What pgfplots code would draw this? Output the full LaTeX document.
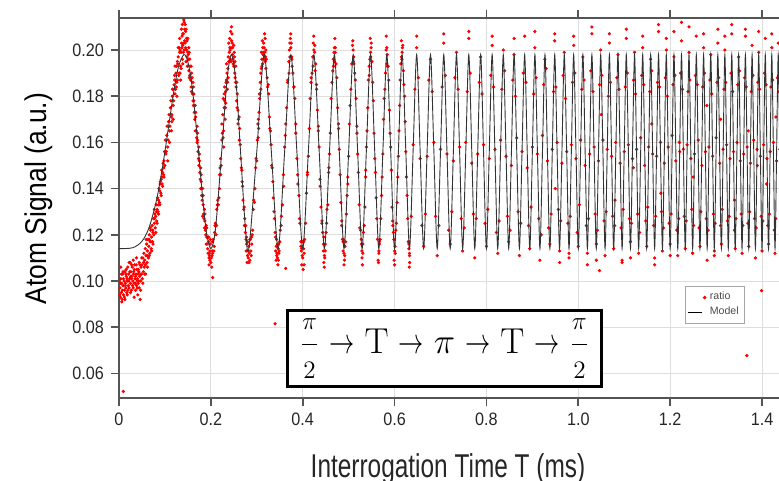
\RequirePackage{fix-cm}
\documentclass[border=0pt]{standalone}
\usepackage[no-math]{fontspec}
\usepackage{graphicx}
\usepackage{pgfplots}
\pgfplotsset{compat=1.18}
\setmainfont{Liberation Sans}
\newfontfamily\tickfont{Liberation Sans}[FakeStretch=0.9]
\newfontfamily\ylabfont{Liberation Sans}[FakeStretch=0.88]
\newfontfamily\xlabfont{Liberation Sans}[FakeStretch=0.74]
\definecolor{framecol}{RGB}{85,85,85}
\definecolor{gridcol}{RGB}{222,222,222}
\newcommand{\sto}{\mathrel{\scalebox{0.7}[1]{$\rightarrow$}}}

\begin{document}
\begin{tikzpicture}
\begin{axis}[
    scale only axis,
    width=333pt,
    height=190pt,
    xmin=0, xmax=1.45,
    ymin=0.04935, ymax=0.21385,
    clip mode=individual,
    xtick={0,0.2,0.4,0.6,0.8,1.0,1.2,1.4},
    xticklabels={0,0.2,0.4,0.6,0.8,1.0,1.2,1.4},
    ytick={0.06,0.08,0.10,0.12,0.14,0.16,0.18,0.20},
    yticklabels={0.06,0.08,0.10,0.12,0.14,0.16,0.18,0.20},
    xticklabel pos=lower,
    xtick pos=both,
    ytick pos=left,
    tick align=outside,
    major tick length=4pt,
    xtick style={draw=framecol, line width=0.8pt},
    ytick style={draw=framecol, line width=0.8pt},
    grid=major,
    major grid style={gridcol, line width=0.5pt},
    axis line style={framecol, line width=1pt},
    tick label style={font=\tickfont\fontsize{9}{10}\selectfont, color=black!85},
    /pgf/number format/assume math mode=true,
    xlabel={\xlabfont\fontsize{16.5}{18}\selectfont Interrogation Time T (ms)},
    xlabel style={at={(axis description cs:0.494,-0.208)}, anchor=base, inner sep=0pt, color=black!85},
    ylabel={\ylabfont\fontsize{15}{17}\selectfont Atom Signal (a.u.)},
    ylabel style={at={(axis description cs:-0.1201,0.525)}, anchor=center, inner sep=0pt},
    legend style={at={(0.850,0.2945)}, anchor=north west, draw=gray!70,
        line width=0.5pt, font=\fontsize{5.3}{6}\selectfont, inner sep=0.8pt,
        row sep=-2pt, text=black!70},
    legend cell align=left,
]
% measured points
\addplot[only marks, mark=*, mark size=0.6pt, color=red] coordinates {
(0.002,0.097)(0.003,0.093)(0.004,0.101)(0.005,0.095)(0.006,0.099)(0.007,0.092)(0.008,0.103)(0.009,0.098)(0.010,0.094)(0.011,0.100)
(0.012,0.096)(0.013,0.104)(0.014,0.099)(0.015,0.097)(0.016,0.102)(0.017,0.095)(0.018,0.100)(0.019,0.106)(0.020,0.098)(0.021,0.103)
(0.022,0.097)(0.023,0.101)(0.024,0.108)(0.025,0.099)(0.026,0.104)(0.027,0.096)(0.028,0.102)(0.029,0.106)(0.030,0.100)(0.031,0.097)
(0.032,0.104)(0.033,0.099)(0.034,0.107)(0.035,0.101)(0.036,0.096)(0.037,0.103)(0.038,0.098)(0.039,0.105)(0.040,0.101)(0.041,0.094)
(0.042,0.099)(0.043,0.104)(0.044,0.097)(0.045,0.102)(0.046,0.092)(0.047,0.100)(0.048,0.106)(0.049,0.103)
(0.004,0.106)(0.009,0.104)(0.013,0.092)(0.018,0.094)(0.022,0.108)(0.027,0.101)(0.031,0.109)(0.036,0.102)(0.040,0.097)(0.044,0.108)
(0.047,0.096)(0.001,0.100)(0.006,0.091)(0.015,0.103)(0.025,0.095)(0.033,0.093)(0.038,0.110)(0.042,0.105)
(0.0015,0.094)(0.0035,0.099)(0.0055,0.103)(0.0075,0.096)(0.0095,0.101)(0.0115,0.093)(0.0135,0.098)(0.0155,0.105)(0.0175,0.101)(0.0195,0.096)
(0.0215,0.100)(0.0235,0.104)(0.0255,0.102)(0.0275,0.107)(0.0295,0.098)(0.0315,0.103)(0.0335,0.105)(0.0355,0.099)(0.0375,0.107)(0.0395,0.100)
(0.0415,0.103)(0.0435,0.100)(0.0455,0.107)(0.0475,0.103)(0.0495,0.110)(0.0535,0.108)(0.0575,0.107)(0.0615,0.111)(0.0655,0.118)(0.0695,0.117)
(0.0735,0.122)(0.0775,0.127)(0.0815,0.130)(0.0855,0.133)(0.0895,0.142)(0.0935,0.145)(0.0975,0.149)
(0.050,0.107)(0.051,0.101)(0.052,0.110)(0.053,0.104)(0.054,0.112)(0.055,0.106)(0.056,0.109)(0.057,0.114)(0.058,0.103)(0.059,0.111)
(0.060,0.116)(0.061,0.108)(0.062,0.113)(0.063,0.118)(0.064,0.110)(0.065,0.115)(0.066,0.120)(0.067,0.112)(0.068,0.117)(0.069,0.122)
(0.070,0.114)(0.071,0.119)(0.072,0.124)(0.073,0.117)(0.074,0.121)(0.075,0.127)(0.076,0.120)(0.077,0.125)(0.078,0.129)(0.079,0.123)
(0.080,0.128)(0.081,0.133)(0.082,0.126)(0.083,0.131)(0.084,0.136)(0.085,0.130)(0.086,0.135)(0.087,0.140)(0.088,0.134)(0.089,0.139)
(0.090,0.143)(0.091,0.138)(0.092,0.144)(0.093,0.148)(0.094,0.142)(0.095,0.147)(0.096,0.151)(0.097,0.146)(0.098,0.152)(0.099,0.156)
(0.052,0.099)(0.056,0.103)(0.059,0.118)(0.062,0.106)(0.066,0.111)(0.068,0.123)(0.071,0.113)(0.074,0.116)(0.077,0.131)(0.080,0.121)
(0.083,0.125)(0.086,0.129)(0.089,0.133)(0.092,0.137)(0.095,0.141)(0.098,0.145)
(0.100,0.150)(0.102,0.155)(0.104,0.163)(0.106,0.158)(0.108,0.169)(0.110,0.165)(0.112,0.175)(0.114,0.171)(0.116,0.180)(0.118,0.176)
(0.120,0.185)(0.122,0.181)(0.124,0.190)(0.126,0.186)(0.128,0.194)(0.130,0.189)(0.132,0.199)(0.134,0.193)(0.136,0.203)(0.138,0.196)
(0.140,0.207)(0.142,0.200)(0.144,0.211)(0.146,0.195)(0.148,0.204)(0.150,0.199)(0.152,0.191)(0.154,0.196)(0.156,0.187)(0.158,0.190)
(0.160,0.181)(0.162,0.184)(0.164,0.173)(0.166,0.176)(0.168,0.165)(0.170,0.167)(0.172,0.156)(0.174,0.158)(0.176,0.147)(0.178,0.149)
(0.180,0.137)(0.182,0.140)(0.184,0.129)(0.186,0.131)(0.188,0.122)(0.190,0.124)(0.192,0.116)(0.194,0.119)(0.196,0.110)(0.198,0.113)
(0.200,0.108)
(0.101,0.161)(0.103,0.156)(0.105,0.167)(0.107,0.161)(0.109,0.172)(0.111,0.167)(0.113,0.178)(0.115,0.172)(0.117,0.183)(0.119,0.178)
(0.121,0.187)(0.123,0.183)(0.125,0.193)(0.127,0.187)(0.129,0.197)(0.131,0.190)(0.133,0.200)(0.135,0.199)(0.137,0.201)(0.139,0.207)
(0.141,0.203)(0.143,0.209)(0.145,0.201)(0.147,0.205)(0.149,0.193)(0.151,0.198)(0.153,0.188)(0.155,0.193)(0.157,0.184)(0.159,0.188)
(0.161,0.178)(0.163,0.181)(0.165,0.170)(0.167,0.173)(0.169,0.162)(0.171,0.164)(0.173,0.153)(0.175,0.155)(0.177,0.144)(0.179,0.146)
(0.181,0.135)(0.183,0.137)(0.185,0.127)(0.187,0.129)(0.189,0.120)(0.191,0.123)(0.193,0.114)(0.195,0.119)(0.197,0.111)(0.199,0.118)
(0.131,0.201)(0.135,0.192)(0.137,0.206)(0.139,0.202)(0.141,0.213)(0.143,0.204)(0.145,0.208)(0.147,0.200)(0.149,0.205)(0.139,0.194)
(0.133,0.190)(0.127,0.195)(0.125,0.184)(0.121,0.189)(0.117,0.183)(0.115,0.169)(0.151,0.196)(0.153,0.199)(0.157,0.193)(0.161,0.186)
(0.163,0.178)(0.167,0.171)(0.171,0.161)(0.175,0.152)(0.179,0.143)(0.183,0.133)(0.187,0.126)(0.191,0.119)(0.195,0.117)(0.197,0.112)
(0.199,0.116)(0.201,0.110)(0.203,0.113)(0.196,0.107)
(0.118,0.170)(0.122,0.193)(0.126,0.180)(0.129,0.201)(0.132,0.205)(0.134,0.187)(0.136,0.209)(0.138,0.211)(0.140,0.199)(0.142,0.212)
(0.144,0.203)(0.146,0.209)(0.148,0.197)(0.150,0.205)(0.152,0.201)(0.154,0.189)(0.158,0.182)(0.162,0.176)(0.166,0.165)(0.170,0.160)
(0.174,0.150)(0.178,0.140)(0.182,0.128)(0.186,0.123)(0.190,0.116)(0.194,0.112)(0.198,0.109)(0.202,0.106)(0.106,0.152)(0.110,0.160)
(0.114,0.165)
(0.2025,0.111)(0.205,0.118)(0.2075,0.115)(0.210,0.125)(0.2125,0.124)(0.215,0.135)(0.2175,0.136)(0.220,0.149)(0.2225,0.150)(0.225,0.164)
(0.2275,0.165)(0.230,0.178)(0.2325,0.177)(0.235,0.190)(0.2375,0.188)(0.240,0.199)(0.2425,0.196)(0.245,0.204)(0.2475,0.201)(0.250,0.193)
(0.2525,0.195)(0.255,0.184)(0.2575,0.181)(0.260,0.170)(0.2625,0.166)(0.265,0.153)(0.2675,0.148)(0.270,0.135)(0.2725,0.132)(0.275,0.121)
(0.2775,0.119)(0.280,0.111)(0.2825,0.115)(0.285,0.109)
(0.2035,0.117)(0.2065,0.113)(0.209,0.124)(0.2115,0.120)(0.214,0.133)(0.2165,0.133)(0.219,0.146)(0.2215,0.146)(0.224,0.161)(0.2265,0.162)
(0.229,0.175)(0.2315,0.175)(0.234,0.187)(0.2365,0.186)(0.239,0.195)(0.2415,0.201)(0.244,0.195)(0.2465,0.203)(0.249,0.194)(0.2515,0.197)
(0.254,0.186)(0.2565,0.186)(0.259,0.174)(0.2615,0.171)(0.264,0.159)(0.2665,0.149)(0.269,0.141)(0.2715,0.131)(0.274,0.127)(0.2765,0.118)
(0.279,0.117)(0.2815,0.110)
(0.224,0.168)(0.227,0.179)(0.230,0.184)(0.232,0.182)(0.234,0.194)(0.237,0.192)(0.239,0.203)(0.242,0.200)(0.245,0.210)(0.247,0.198)
(0.250,0.202)(0.252,0.190)(0.254,0.193)(0.257,0.175)(0.259,0.168)(0.262,0.161)(0.268,0.143)(0.273,0.124)(0.277,0.113)(0.280,0.117)
(0.283,0.108)
(0.226,0.172)(0.228,0.158)(0.229,0.181)(0.231,0.170)(0.233,0.186)(0.236,0.183)(0.238,0.197)(0.241,0.205)(0.243,0.208)(0.244,0.201)
(0.246,0.207)(0.248,0.196)(0.251,0.199)(0.253,0.188)(0.256,0.178)(0.219,0.140)(0.221,0.153)(0.213,0.131)(0.208,0.121)(0.204,0.112)
(0.279,0.108)(0.281,0.113)(0.284,0.112)(0.286,0.118)(0.278,0.116)(0.276,0.124)
(0.287,0.113)(0.290,0.120)(0.2925,0.131)(0.295,0.134)(0.2975,0.149)(0.300,0.152)(0.3025,0.168)(0.305,0.173)(0.3075,0.186)(0.310,0.192)
(0.3125,0.194)(0.315,0.203)(0.3175,0.199)(0.320,0.200)(0.3225,0.188)(0.325,0.185)(0.3275,0.171)(0.330,0.165)(0.3325,0.150)(0.335,0.143)
(0.3375,0.130)(0.340,0.121)(0.3425,0.115)(0.345,0.110)(0.3475,0.116)
(0.2885,0.119)(0.291,0.122)(0.2935,0.135)(0.296,0.140)(0.2985,0.153)(0.301,0.161)(0.3035,0.170)(0.306,0.181)(0.3085,0.190)(0.311,0.193)
(0.3135,0.198)(0.316,0.201)(0.3185,0.195)(0.321,0.196)(0.3235,0.184)(0.326,0.181)(0.3285,0.166)(0.331,0.159)(0.3335,0.149)(0.336,0.136)
(0.3385,0.127)(0.341,0.119)(0.3435,0.111)(0.3465,0.114)
(0.304,0.166)(0.307,0.181)(0.310,0.199)(0.312,0.204)(0.315,0.198)(0.317,0.207)(0.320,0.192)(0.342,0.109)(0.345,0.116)(0.347,0.109)
(0.313,0.201)(0.316,0.196)(0.318,0.205)(0.314,0.199)(0.319,0.197)(0.311,0.196)(0.309,0.183)(0.306,0.179)(0.303,0.162)(0.344,0.112)
(0.346,0.107)(0.343,0.118)(0.341,0.113)(0.348,0.112)(0.285,0.118)(0.288,0.111)(0.289,0.116)
(0.3511,0.122)(0.3559,0.133)(0.3606,0.158)(0.3651,0.175)(0.3697,0.195)(0.3742,0.201)(0.3786,0.190)(0.3829,0.179)(0.3873,0.153)(0.3915,0.137)
(0.3958,0.117)(0.4000,0.110)
(0.3485,0.113)(0.3535,0.128)(0.3585,0.141)(0.3630,0.168)(0.3675,0.187)(0.3720,0.203)(0.3765,0.196)(0.3808,0.184)(0.3850,0.164)(0.3895,0.142)
(0.3937,0.125)(0.3980,0.114)
(0.350,0.117)(0.353,0.124)(0.358,0.146)(0.362,0.163)(0.367,0.186)(0.372,0.197)(0.373,0.205)(0.375,0.203)(0.376,0.197)(0.371,0.200)
(0.381,0.184)(0.385,0.168)(0.389,0.146)(0.393,0.127)(0.397,0.113)(0.398,0.107)(0.399,0.111)(0.401,0.105)(0.402,0.114)(0.396,0.115)
(0.370,0.190)(0.374,0.207)(0.377,0.193)(0.399,0.117)(0.403,0.107)(0.424,0.206)(0.427,0.191)(0.446,0.119)(0.447,0.106)(0.469,0.195)
(0.471,0.201)(0.490,0.107)(0.489,0.118)(0.510,0.195)(0.529,0.113)(0.548,0.197)(0.566,0.113)(0.583,0.194)(0.600,0.107)(0.616,0.196)
(0.632,0.106)
(0.4041,0.118)(0.4082,0.138)(0.4123,0.154)(0.4163,0.179)(0.4203,0.190)(0.4243,0.200)(0.4282,0.194)(0.4320,0.174)(0.4359,0.158)(0.4397,0.132)
(0.4434,0.121)(0.4472,0.111)
(0.4020,0.117)(0.4062,0.125)(0.4103,0.147)(0.4143,0.166)(0.4183,0.188)(0.4223,0.193)(0.4262,0.202)(0.4301,0.183)(0.4340,0.167)(0.4378,0.144)
(0.4416,0.125)(0.4453,0.116)
(0.403,0.112)(0.410,0.146)(0.418,0.186)(0.422,0.197)(0.423,0.203)(0.426,0.199)(0.430,0.185)(0.434,0.165)(0.438,0.141)(0.442,0.126)
(0.445,0.113)(0.446,0.108)(0.449,0.116)(0.448,0.110)
(0.4509,0.121)(0.4546,0.133)(0.4583,0.155)(0.4619,0.179)(0.4654,0.191)(0.4690,0.201)(0.4725,0.194)(0.4761,0.175)(0.4796,0.157)(0.4830,0.134)
(0.4865,0.118)(0.4899,0.112)
(0.4490,0.113)(0.4528,0.131)(0.4565,0.147)(0.4601,0.164)(0.4637,0.186)(0.4672,0.193)(0.4708,0.199)(0.4743,0.188)(0.4778,0.168)(0.4813,0.146)
(0.4848,0.124)(0.4882,0.117)
(0.457,0.149)(0.467,0.196)(0.470,0.205)(0.468,0.199)(0.478,0.166)(0.485,0.126)(0.488,0.113)(0.491,0.109)(0.492,0.115)(0.452,0.125)
(0.4933,0.117)(0.4966,0.137)(0.5000,0.154)(0.5033,0.176)(0.5066,0.194)(0.5099,0.200)(0.5131,0.190)(0.5164,0.179)(0.5196,0.155)(0.5228,0.133)
(0.5260,0.122)(0.5292,0.110)
(0.4916,0.111)(0.4950,0.129)(0.4983,0.142)(0.5016,0.168)(0.5050,0.183)(0.5083,0.202)(0.5115,0.194)(0.5148,0.187)(0.5180,0.164)(0.5212,0.147)
(0.5244,0.123)(0.5276,0.118)
(0.509,0.204)(0.511,0.197)(0.498,0.145)(0.518,0.167)(0.528,0.116)(0.531,0.112)(0.530,0.107)
(0.5323,0.121)(0.5354,0.132)(0.5385,0.158)(0.5416,0.175)(0.5446,0.193)(0.5477,0.199)(0.5507,0.195)(0.5538,0.178)(0.5568,0.153)(0.5598,0.136)
(0.5627,0.118)(0.5657,0.112)
(0.5308,0.116)(0.5339,0.124)(0.5370,0.148)(0.5400,0.165)(0.5431,0.187)(0.5462,0.196)(0.5492,0.203)(0.5523,0.186)(0.5553,0.164)(0.5583,0.147)
(0.5612,0.127)(0.5642,0.109)
(0.547,0.205)(0.549,0.201)(0.545,0.189)(0.565,0.108)(0.567,0.116)(0.537,0.145)
(0.5686,0.118)(0.5716,0.137)(0.5745,0.155)(0.5774,0.179)(0.5802,0.190)(0.5831,0.201)(0.5859,0.193)(0.5888,0.174)(0.5916,0.158)(0.5944,0.132)
(0.5972,0.121)(0.6000,0.113)
(0.5671,0.117)(0.5701,0.127)(0.5730,0.145)(0.5760,0.170)(0.5788,0.183)(0.5816,0.200)(0.5845,0.193)(0.5873,0.187)(0.5902,0.164)(0.5930,0.148)
(0.5958,0.126)(0.5986,0.118)
(0.582,0.206)(0.584,0.198)(0.599,0.109)(0.601,0.115)(0.596,0.124)
(0.6028,0.122)(0.6055,0.134)(0.6083,0.154)(0.6110,0.176)(0.6137,0.194)(0.6164,0.199)(0.6191,0.191)(0.6218,0.180)(0.6245,0.156)(0.6272,0.137)
(0.6298,0.117)(0.6325,0.111)
(0.6014,0.112)(0.6041,0.125)(0.6069,0.145)(0.6096,0.165)(0.6123,0.187)(0.6150,0.197)(0.6177,0.202)(0.6204,0.185)(0.6231,0.169)(0.6258,0.145)
(0.6285,0.127)(0.6311,0.114)
(0.615,0.204)(0.617,0.201)(0.631,0.116)(0.633,0.108)
(0.6325,0.112)(0.6364,0.128)(0.6403,0.159)(0.6442,0.183)(0.6481,0.201)(0.6519,0.188)(0.6557,0.153)(0.6595,0.124)
(0.6633,0.115)(0.6671,0.129)(0.6708,0.154)(0.6745,0.187)(0.6782,0.196)(0.6819,0.182)(0.6856,0.160)(0.6892,0.128)
(0.6928,0.111)(0.6964,0.124)(0.7000,0.157)(0.7036,0.184)(0.7071,0.203)(0.7106,0.189)(0.7141,0.155)(0.7176,0.122)
(0.7211,0.116)(0.7246,0.130)(0.7280,0.152)(0.7314,0.188)(0.7348,0.199)(0.7382,0.183)(0.7416,0.158)(0.7450,0.127)
(0.7483,0.113)(0.7517,0.123)(0.7550,0.160)(0.7583,0.182)(0.7616,0.205)(0.7649,0.190)(0.7681,0.151)(0.7714,0.129)
(0.7746,0.110)(0.7778,0.127)(0.7810,0.155)(0.7842,0.186)(0.7874,0.197)(0.7906,0.181)(0.7937,0.159)(0.7969,0.125)
(0.8000,0.115)(0.8031,0.131)(0.8062,0.153)(0.8093,0.189)(0.8124,0.202)(0.8155,0.184)(0.8185,0.157)(0.8216,0.121)
(0.8246,0.112)(0.8277,0.126)(0.8307,0.161)(0.8337,0.183)(0.8367,0.200)(0.8397,0.191)(0.8426,0.154)(0.8456,0.128)
(0.8485,0.117)(0.8515,0.122)(0.8544,0.150)(0.8573,0.187)(0.8602,0.198)(0.8631,0.180)(0.8660,0.162)(0.8689,0.130)
(0.8718,0.111)(0.8747,0.125)(0.8775,0.156)(0.8804,0.190)(0.8832,0.206)(0.8860,0.186)(0.8888,0.149)(0.8916,0.124)
(0.8944,0.114)(0.8972,0.132)(0.9000,0.158)(0.9028,0.181)(0.9055,0.201)(0.9083,0.188)(0.9110,0.155)(0.9138,0.127)
(0.9165,0.109)(0.9193,0.120)(0.9220,0.163)(0.9247,0.185)(0.9274,0.196)(0.9301,0.192)(0.9327,0.152)(0.9354,0.123)
(0.9381,0.116)(0.9408,0.129)(0.9434,0.157)(0.9461,0.182)(0.9487,0.204)(0.9513,0.184)(0.9539,0.160)(0.9566,0.131)
(0.9592,0.113)(0.9618,0.126)(0.9644,0.151)(0.9670,0.189)(0.9695,0.199)(0.9721,0.179)(0.9747,0.156)(0.9773,0.125)
(0.9798,0.110)(0.9824,0.128)(0.9849,0.159)(0.9874,0.186)(0.9899,0.202)(0.9925,0.190)(0.9950,0.153)(0.9975,0.121)
(1.0000,0.115)(1.0025,0.133)(1.0050,0.161)(1.0075,0.183)(1.0100,0.197)(1.0125,0.187)(1.0149,0.150)(1.0174,0.124)
(1.0198,0.112)(1.0223,0.127)(1.0247,0.155)(1.0272,0.191)(1.0296,0.207)(1.0320,0.182)(1.0344,0.158)(1.0368,0.129)
(1.0392,0.116)(1.0416,0.122)(1.0440,0.152)(1.0464,0.185)(1.0488,0.200)(1.0512,0.189)(1.0536,0.161)(1.0560,0.126)
(1.0583,0.111)(1.0607,0.130)(1.0630,0.157)(1.0654,0.180)(1.0677,0.203)(1.0701,0.186)(1.0724,0.154)(1.0747,0.128)
(1.0770,0.114)(1.0794,0.124)(1.0817,0.160)(1.0840,0.188)(1.0863,0.198)(1.0886,0.183)(1.0909,0.151)(1.0932,0.123)
(1.0954,0.109)(1.0977,0.131)(1.1000,0.156)(1.1023,0.184)(1.1045,0.205)(1.1068,0.190)(1.1091,0.159)(1.1114,0.127)
(1.1136,0.117)(1.1158,0.125)(1.1180,0.153)(1.1203,0.187)(1.1225,0.199)(1.1247,0.181)(1.1269,0.157)(1.1292,0.129)
(1.1314,0.112)(1.1336,0.121)(1.1358,0.162)(1.1380,0.189)(1.1402,0.201)(1.1424,0.185)(1.1446,0.150)(1.1468,0.126)
(1.1489,0.115)(1.1511,0.132)(1.1533,0.158)(1.1555,0.182)(1.1576,0.196)(1.1598,0.191)(1.1619,0.155)(1.1641,0.124)
(1.1662,0.110)(1.1684,0.128)(1.1705,0.154)(1.1726,0.186)(1.1747,0.208)(1.1769,0.184)(1.1790,0.160)(1.1811,0.130)
(1.1832,0.113)(1.1853,0.123)(1.1874,0.151)(1.1895,0.188)(1.1916,0.200)(1.1937,0.180)(1.1958,0.158)(1.1979,0.125)
(1.2000,0.116)(1.2021,0.129)(1.2042,0.163)(1.2063,0.185)(1.2083,0.197)(1.2104,0.189)(1.2124,0.152)(1.2145,0.122)
(1.2166,0.111)(1.2186,0.127)(1.2207,0.156)(1.2227,0.190)(1.2247,0.204)(1.2268,0.183)(1.2288,0.157)(1.2308,0.128)
(1.2329,0.114)(1.2349,0.126)(1.2369,0.159)(1.2389,0.182)(1.2410,0.199)(1.2430,0.187)(1.2450,0.153)(1.2470,0.131)
(1.2490,0.112)(1.2510,0.124)(1.2530,0.155)(1.2550,0.189)(1.2570,0.206)(1.2590,0.185)(1.2610,0.161)(1.2630,0.123)
(1.2649,0.115)(1.2669,0.130)(1.2689,0.150)(1.2709,0.184)(1.2728,0.201)(1.2748,0.190)(1.2767,0.156)(1.2787,0.127)
(1.2806,0.109)(1.2826,0.122)(1.2845,0.158)(1.2865,0.187)(1.2884,0.198)(1.2904,0.181)(1.2923,0.154)(1.2942,0.129)
(1.2961,0.113)(1.2981,0.125)(1.3000,0.162)(1.3019,0.186)(1.3038,0.203)(1.3058,0.188)(1.3077,0.151)(1.3096,0.124)
(1.3115,0.116)(1.3134,0.131)(1.3153,0.157)(1.3172,0.183)(1.3191,0.200)(1.3210,0.186)(1.3229,0.159)(1.3248,0.126)
(1.3266,0.111)(1.3285,0.128)(1.3304,0.153)(1.3323,0.190)(1.3342,0.207)(1.3361,0.182)(1.3379,0.156)(1.3398,0.122)
(1.3416,0.114)(1.3435,0.127)(1.3454,0.160)(1.3473,0.185)(1.3491,0.197)(1.3510,0.191)(1.3528,0.152)(1.3547,0.129)
(1.3565,0.112)(1.3583,0.124)(1.3601,0.155)(1.3620,0.188)(1.3638,0.209)(1.3657,0.184)(1.3675,0.158)(1.3693,0.125)
(1.3711,0.115)(1.3730,0.130)(1.3748,0.151)(1.3766,0.182)(1.3784,0.202)(1.3802,0.189)(1.3820,0.161)(1.3838,0.127)
(1.3856,0.110)(1.3874,0.123)(1.3892,0.157)(1.3910,0.186)(1.3928,0.199)(1.3946,0.183)(1.3964,0.154)(1.3982,0.128)
(1.4000,0.113)(1.4018,0.126)(1.4036,0.159)(1.4054,0.190)(1.4071,0.205)(1.4089,0.185)(1.4107,0.153)(1.4125,0.124)
(1.4142,0.116)(1.4160,0.129)(1.4177,0.156)(1.4195,0.184)(1.4213,0.201)(1.4231,0.187)(1.4248,0.160)(1.4266,0.122)
(1.4283,0.112)(1.4301,0.127)(1.4318,0.152)(1.4336,0.188)(1.4353,0.203)(1.4370,0.182)(1.4387,0.157)(1.4405,0.126)
(1.4422,0.114)
(0.7071,0.207)(0.8124,0.206)(0.8602,0.205)(0.9055,0.208)(0.9487,0.207)(0.9899,0.206)(1.0296,0.210)(1.0677,0.207)(1.1045,0.209)(1.1402,0.206)
(1.1747,0.211)(1.2083,0.208)(1.2410,0.210)(1.2728,0.207)(1.3038,0.209)(1.3342,0.211)(1.3638,0.206)(1.3928,0.208)(1.4213,0.207)(1.2247,0.212)
(1.1916,0.205)(1.3191,0.206)(0.7616,0.208)(0.6481,0.206)
(0.9592,0.108)(1.0392,0.109)(1.1136,0.110)(1.2000,0.111)(1.2490,0.112)(1.2961,0.111)(0.9798,0.112)(1.0198,0.107)(1.0954,0.108)(1.1662,0.107)
(1.250,0.145)(1.310,0.170)(1.180,0.138)(1.370,0.165)(1.410,0.142)(1.050,0.172)(1.120,0.149)(0.950,0.140)(1.280,0.176)(1.220,0.160)
(1.340,0.135)(1.430,0.171)(1.160,0.168)(1.390,0.150)(1.080,0.135)
(0.0094,0.0522)(0.204,0.1015)(0.340,0.0815)(0.363,0.1055)(1.046,0.1045)(1.399,0.0958)(1.367,0.0677)
};
\addlegendentry{ratio}
% fitted model
\addplot[black!80, line width=0.45pt, smooth,
    legend image code/.code={\draw[black, line width=0.4pt] (0pt,0pt) -- (7pt,0pt);}] coordinates {
(0,0.114)(0.03,0.1144)(0.05,0.1172)(0.065,0.1229)(0.08,0.1335)(0.09,0.1437)(0.1,0.156)(0.11,0.1696)(0.12,0.1828)(0.13,0.1931)
(0.1414,0.198)(0.15,0.1948)(0.16,0.1828)(0.1732,0.156)(0.18,0.1405)(0.19,0.1216)(0.2,0.114)(0.21,0.1224)(0.2236,0.156)(0.235,0.1867)
(0.2449,0.198)(0.255,0.1856)(0.2646,0.156)(0.275,0.1234)(0.2828,0.114)
(0.3000,0.156)(0.3162,0.198)(0.3317,0.156)(0.3464,0.114)(0.3606,0.156)(0.3742,0.198)(0.3873,0.156)(0.4000,0.114)
(0.4123,0.156)(0.4243,0.198)(0.4359,0.156)(0.4472,0.114)(0.4583,0.156)(0.4690,0.198)(0.4796,0.156)(0.4899,0.114)
(0.5000,0.156)(0.5099,0.198)(0.5196,0.156)(0.5292,0.114)(0.5385,0.156)(0.5477,0.198)(0.5568,0.156)(0.5657,0.114)
(0.5745,0.156)(0.5831,0.198)(0.5916,0.156)(0.6000,0.114)(0.6083,0.156)(0.6164,0.198)(0.6245,0.156)(0.6325,0.114)
(0.6403,0.156)(0.6481,0.198)(0.6557,0.156)(0.6633,0.114)(0.6708,0.156)(0.6782,0.198)(0.6856,0.156)(0.6928,0.114)
(0.7000,0.156)(0.7071,0.198)(0.7141,0.156)(0.7211,0.114)(0.7280,0.156)(0.7348,0.198)(0.7416,0.156)(0.7483,0.114)
(0.7550,0.156)(0.7616,0.198)(0.7681,0.156)(0.7746,0.114)(0.7810,0.156)(0.7874,0.198)(0.7937,0.156)(0.8000,0.114)
(0.8062,0.156)(0.8124,0.198)(0.8185,0.156)(0.8246,0.114)(0.8307,0.156)(0.8367,0.198)(0.8426,0.156)(0.8485,0.114)
(0.8544,0.156)(0.8602,0.198)(0.8660,0.156)(0.8718,0.114)(0.8775,0.156)(0.8832,0.198)(0.8888,0.156)(0.8944,0.114)
(0.9000,0.156)(0.9055,0.198)(0.9110,0.156)(0.9165,0.114)(0.9220,0.156)(0.9274,0.198)(0.9327,0.156)(0.9381,0.114)
(0.9434,0.156)(0.9487,0.198)(0.9539,0.156)(0.9592,0.114)(0.9644,0.156)(0.9695,0.198)(0.9747,0.156)(0.9798,0.114)
(0.9849,0.156)(0.9899,0.198)(0.9950,0.156)(1.0000,0.114)(1.0050,0.156)(1.0100,0.198)(1.0149,0.156)(1.0198,0.114)
(1.0247,0.156)(1.0296,0.198)(1.0344,0.156)(1.0392,0.114)(1.0440,0.156)(1.0488,0.198)(1.0536,0.156)(1.0583,0.114)
(1.0630,0.156)(1.0677,0.198)(1.0724,0.156)(1.0770,0.114)(1.0817,0.156)(1.0863,0.198)(1.0909,0.156)(1.0954,0.114)
(1.1000,0.156)(1.1045,0.198)(1.1091,0.156)(1.1136,0.114)(1.1180,0.156)(1.1225,0.198)(1.1269,0.156)(1.1314,0.114)
(1.1358,0.156)(1.1402,0.198)(1.1446,0.156)(1.1489,0.114)(1.1533,0.156)(1.1576,0.198)(1.1619,0.156)(1.1662,0.114)
(1.1705,0.156)(1.1747,0.198)(1.1790,0.156)(1.1832,0.114)(1.1874,0.156)(1.1916,0.198)(1.1958,0.156)(1.2000,0.114)
(1.2042,0.156)(1.2083,0.198)(1.2124,0.156)(1.2166,0.114)(1.2207,0.156)(1.2247,0.198)(1.2288,0.156)(1.2329,0.114)
(1.2369,0.156)(1.2410,0.198)(1.2450,0.156)(1.2490,0.114)(1.2530,0.156)(1.2570,0.198)(1.2610,0.156)(1.2649,0.114)
(1.2689,0.156)(1.2728,0.198)(1.2767,0.156)(1.2806,0.114)(1.2845,0.156)(1.2884,0.198)(1.2923,0.156)(1.2961,0.114)
(1.3000,0.156)(1.3038,0.198)(1.3077,0.156)(1.3115,0.114)(1.3153,0.156)(1.3191,0.198)(1.3229,0.156)(1.3266,0.114)
(1.3304,0.156)(1.3342,0.198)(1.3379,0.156)(1.3416,0.114)(1.3454,0.156)(1.3491,0.198)(1.3528,0.156)(1.3565,0.114)
(1.3601,0.156)(1.3638,0.198)(1.3675,0.156)(1.3711,0.114)(1.3748,0.156)(1.3784,0.198)(1.3820,0.156)(1.3856,0.114)
(1.3892,0.156)(1.3928,0.198)(1.3964,0.156)(1.4000,0.114)(1.4036,0.156)(1.4071,0.198)(1.4107,0.156)(1.4142,0.114)
(1.4177,0.156)(1.4213,0.198)(1.4248,0.156)(1.4283,0.114)(1.4318,0.156)(1.4353,0.198)(1.4387,0.156)(1.4422,0.114)
(1.4457,0.156)(1.4491,0.198)
};
\addlegendentry{Model}
% outward tick marks on the frame
\pgfplotsinvokeforeach{0,0.2,0.4,0.6,0.8,1.0,1.2,1.4}{
    \draw[framecol, line width=0.8pt] (axis cs:#1,0.04935) -- ++(0pt,-4pt);
    \draw[framecol, line width=0.8pt] (axis cs:#1,0.21385) -- ++(0pt,4pt);
}
\pgfplotsinvokeforeach{0.06,0.08,0.10,0.12,0.14,0.16,0.18,0.20}{
    \draw[framecol, line width=0.8pt] (axis cs:0,#1) -- ++(-4pt,0pt);
}
\node[draw=black, line width=1.5pt, fill=white, minimum width=157pt, minimum height=38pt,
    inner sep=0pt, font=\fontsize{18}{22}\selectfont] at (axis cs:0.7087,0.07078)
    {$\displaystyle\frac{\scriptstyle\pi}{\scriptstyle 2}\sto\mathrm{T}\sto\pi\sto\mathrm{T}\sto\frac{\scriptstyle\pi}{\scriptstyle 2}$};
\coordinate (bbBL) at (axis cs:-0.2591,0.01342);
\coordinate (bbTR) at (axis cs:1.4370,0.22165);
\end{axis}
\pgfresetboundingbox
\useasboundingbox (bbBL) rectangle (bbTR);
\end{tikzpicture}
\end{document}
